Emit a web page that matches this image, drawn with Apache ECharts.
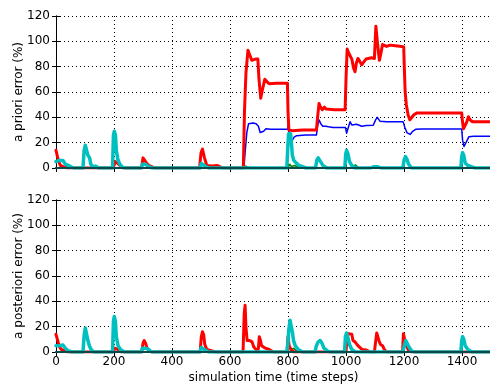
<!DOCTYPE html>
<html>
<head>
<meta charset="utf-8">
<script src="https://cdn.jsdelivr.net/npm/echarts@6/dist/echarts.min.js"></script>
<style>
  html, body { margin: 0; padding: 0; background: #fff; }
  #chart { width: 490px; height: 384px; }
</style>
</head>
<body>
<div id="chart"></div>
<script>
// Time axis and error-axis ticks
const xTicks = [0, 200, 400, 600, 800, 1000, 1200, 1400];
const yTicks = [0, 20, 40, 60, 80, 100, 120];

// A priori error (%) per estimator, [time step, error]
const prioriBlue = [
  [0,0],[648,0],[652,12],[658,28],[664,35],[670,36],[680,35.5],[690,35],[698,33],[704,28],[709,26.5],[716,29],[724,31],[740,30.5],[799,30.5],
  [801,34],[804,25],[808,20],[815,22],[822,24.5],[830,25.5],[860,26],[898,26],
  [902,33],[907,38],[913,35],[920,33],[930,33],[940,32.5],[955,32],[970,32],[998,32],
  [1002,27.5],[1008,32],[1014,36.5],[1020,34],[1026,33],[1037,34.5],[1054,33],[1070,33.5],[1094,33.7],[1102,38],[1108,40],[1117,37],[1140,36.5],[1197,36.6],
  [1203,32],[1210,28],[1221,26.5],[1230,29],[1240,30.5],[1260,30.8],[1399,30.8],
  [1402,22],[1407,17],[1412,17.5],[1418,22],[1424,24.7],[1440,25],[1500,25]
];
const prioriGreen = [
  [0,0],[645,0],[655,1.5],[665,0.5],[675,0],[800,0],[806,3],[812,1],[822,2],[832,1],[845,0],
  [918,0],[925,2],[932,1],[940,0],[1025,0],[1032,2.5],[1038,1],[1045,0],[1500,0]
];
const prioriRed = [
  [0,14],[3,13],[8,6],[15,2],[25,1],[40,0],
  [195,0],[200,2],[205,5],[212,4],[220,2],[230,0],
  [295,0],[300,8],[305,9],[312,4],[320,2],[330,1],[340,0],
  [495,0],[500,12],[505,15],[512,8],[520,2],[540,1.5],[555,2],[565,1],[575,0],
  [646,0],[650,45],[655,75],[662,93],[668,92],[675,85],[680,84],[688,86],[696,86],[700,70],[706,55],[712,62],[720,70],[728,68],[735,66.5],[760,67],[798,67],
  [800,45],[803,30],[806,28.5],[815,29.5],[850,30],[898,30],
  [902,40],[907,51],[912,48],[918,46],[925,48],[932,46.5],[960,46],[997,46],
  [1000,70],[1004,94],[1009,91],[1014,92],[1020,86],[1026,79],[1031,76],[1036,83],[1041,86.5],[1048,84],[1054,81.5],[1062,84],[1069,86],[1088,87],[1098,86.5],
  [1103,112],[1108,100],[1115,85],[1120,90],[1126,97.5],[1140,96],[1152,97],[1170,96.5],[1192,96],[1199,95.5],
  [1201,80],[1204,60],[1208,50],[1214,42],[1220,38],[1226,39],[1234,42],[1245,43.5],[1350,43.5],[1399,43.5],
  [1401,38],[1405,31],[1410,30],[1416,36],[1422,40.5],[1428,38],[1436,36.5],[1500,36.5]
];
const prioriCyan = [
  [0,5],[5,4],[10,6],[16,7],[24,6],[32,3],[42,2],[52,1],[62,0],
  [93,0],[97,14],[101,18],[106,17],[110,10],[116,8],[120,3],[127,1],[137,1.5],[147,0],
  [195,0],[198,26],[201,29],[205,26],[208,14],[213,7],[220,3],[228,1],[238,0],
  [294,0],[298,3],[302,4.5],[308,3],[314,3],[320,1],[332,0],
  [497,0],[501,3.5],[507,4],[514,1.5],[526,0],
  [796,0],[799,15],[802,27],[809,27],[812,19],[815,10],[820,6],[828,4],[838,2],[850,1],[862,0],
  [895,0],[899,6],[904,8],[910,7.5],[915,4],[922,1.5],[932,0],
  [996,0],[999,11],[1002,14],[1007,11],[1012,5],[1020,2],[1032,0],
  [1085,0],[1095,1],[1110,1],[1120,0],
  [1196,0],[1200,6],[1205,9],[1210,7],[1216,3],[1226,0],
  [1396,0],[1399,9],[1402,12],[1406,10],[1411,4],[1420,2],[1432,1],[1445,0],[1500,0]
];
const prioriBlack = [[0,0],[1500,0]];

// A posteriori error (%) per estimator, [time step, error]
const posterioriBlue = [
  [0,0],[203,0],[206,1.5],[210,0],[652,0],[656,1],[660,0],[1500,0]
];
const posterioriGreen = [
  [0,0],[805,0],[812,2],[820,3],[828,1],[840,0],[1500,0]
];
const posterioriRed = [
  [0,14],[3,13],[7,8],[12,4],[18,2],[22,3],[28,1],[40,0],
  [198,0],[202,3],[206,3],[214,2],[225,0],
  [296,0],[300,7],[304,9],[309,7],[314,3],[322,1],[330,0],
  [497,0],[501,12],[505,16],[509,14],[513,6],[520,2],[535,1],[550,0],
  [645,0],[649,30],[652,37],[655,20],[659,9],[668,9],[676,8],[682,4],[690,2],[695,0],
  [698,3],[701,12],[704,10],[709,5],[715,4],[722,3],[735,2],[750,0],
  [797,0],[800,12],[804,5],[810,2],[820,0],
  [1000,0],[1004,12],[1008,14.5],[1020,14],[1024,9],[1031,8],[1041,5],[1055,2],[1070,1.5],[1085,0],
  [1098,0],[1102,8],[1106,15],[1111,15],[1115,8],[1119,6],[1126,5],[1132,2],[1140,0],
  [1195,0],[1198,14.5],[1203,14],[1206,6],[1210,5],[1216,1],[1225,0],
  [1400,0],[1405,1],[1410,0],[1500,0]
];
const posterioriCyan = [
  [0,5],[5,4],[10,5],[16,6],[24,5.5],[32,3],[42,1],[55,0],
  [93,0],[97,13],[101,19],[106,18],[110,9],[115,5],[121,2],[130,0],
  [195,0],[198,24],[201,28],[205,24],[208,12],[214,5],[222,2],[236,0],
  [294,0],[298,3],[302,4],[308,3],[313,4],[319,2],[330,0],
  [497,0],[501,3.5],[507,4],[514,1.5],[526,0],
  [796,0],[800,8],[803,18],[807,25],[812,24],[815,16],[819,9],[825,5],[835,2],[850,0],
  [893,0],[898,5],[904,8],[911,9],[917,7],[924,3],[935,1],[945,0],
  [995,0],[998,12],[1002,15],[1007,11],[1012,6],[1020,2],[1032,0],
  [1196,0],[1201,5],[1206,9],[1211,8.5],[1217,4],[1226,1],[1236,0],
  [1396,0],[1399,9],[1402,12],[1406,10],[1411,5],[1420,2],[1434,0],[1500,0]
];
const posterioriBlack = [[0,0],[1500,0]];

const FONT = 'DejaVu Sans';
const chart = echarts.init(document.getElementById('chart'), null, { renderer: 'canvas' });

const frame = { show: true, lineStyle: { color: '#000', width: 1 } };
const tick = { show: true, inside: true, length: 4, lineStyle: { color: '#000' } };
const dotted = { show: true, lineStyle: { color: '#000', width: 1, type: [1, 3] } };

function xAxisFor(grid, labels) {
  return [
    {
      type: 'value', gridIndex: grid, position: 'bottom', min: 0, max: 1500, interval: 200,
      axisLine: frame, axisTick: tick, splitLine: dotted,
      axisLabel: {
        show: labels, color: '#000', fontFamily: FONT, fontSize: 12, margin: 4, showMaxLabel: false,
        formatter: v => (xTicks.includes(v) ? String(v) : '')
      },
      name: labels ? 'simulation time (time steps)' : '',
      nameLocation: 'middle', nameGap: 20, nameMoveOverlap: false,
      nameTextStyle: { color: '#000', fontFamily: FONT, fontSize: 12 }
    },
    {
      type: 'value', gridIndex: grid, position: 'top', min: 0, max: 1500, interval: 200,
      axisLine: frame, axisTick: tick, splitLine: { show: false }, axisLabel: { show: false }
    }
  ];
}

function yAxisFor(grid, title) {
  return [
    {
      type: 'value', gridIndex: grid, position: 'left', min: 0, max: 120, interval: 20,
      axisLine: frame, axisTick: tick, splitLine: dotted,
      axisLabel: {
        color: '#000', fontFamily: FONT, fontSize: 12, margin: 6,
        formatter: v => (yTicks.includes(v) ? String(v) : '')
      },
      name: title, nameLocation: 'middle', nameGap: 31, nameMoveOverlap: false,
      nameTextStyle: { color: '#000', fontFamily: FONT, fontSize: 12 }
    },
    {
      type: 'value', gridIndex: grid, position: 'right', min: 0, max: 120, interval: 20,
      axisLine: frame, axisTick: tick, splitLine: { show: false }, axisLabel: { show: false }
    }
  ];
}

function line(data, color, width, axisIdx, z) {
  return {
    type: 'line', data, xAxisIndex: axisIdx, yAxisIndex: axisIdx,
    showSymbol: false, symbol: 'none', silent: true, z,
    lineStyle: { color, width, join: 'round', cap: 'round' }
  };
}

chart.setOption({
  animation: false,
  backgroundColor: '#fff',
  grid: [
    { left: 56, top: 16, width: 435, height: 152, outerBoundsMode: 'none', containLabel: false },
    { left: 56, top: 200, width: 435, height: 152, outerBoundsMode: 'none', containLabel: false }
  ],
  xAxis: [...xAxisFor(0, false), ...xAxisFor(1, true)],
  yAxis: [...yAxisFor(0, 'a priori error (%)'), ...yAxisFor(1, 'a posteriori error (%)')],
  series: [
    line(prioriBlue, '#0000ff', 1.5, 0, 2),
    line(prioriGreen, '#008000', 1.5, 0, 3),
    line(prioriRed, '#ff0000', 3, 0, 4),
    line(prioriCyan, '#00bfbf', 3.5, 0, 5),
    line(prioriBlack, '#0a4a4a', 2, 0, 6),
    line(posterioriBlue, '#0000ff', 1.5, 2, 2),
    line(posterioriGreen, '#008000', 1.5, 2, 3),
    line(posterioriRed, '#ff0000', 3, 2, 4),
    line(posterioriCyan, '#00bfbf', 3.5, 2, 5),
    line(posterioriBlack, '#0a4a4a', 2, 2, 6)
  ]
});
</script>
</body>
</html>
